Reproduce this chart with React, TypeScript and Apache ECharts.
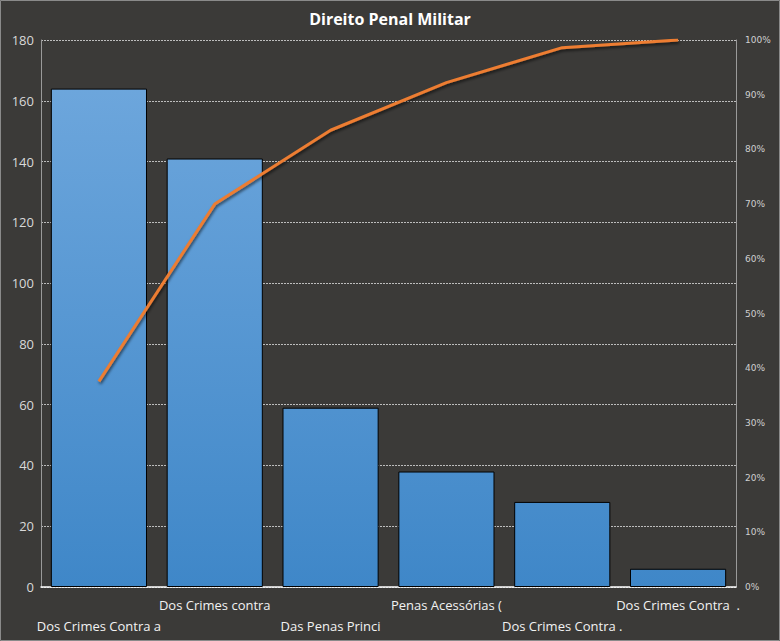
import React, { useEffect, useRef } from "react";
import * as echarts from "echarts";

const categories = [
  "Dos Crimes Contra a",
  "Dos Crimes contra",
  "Das Penas Princi",
  "Penas Acessórias (",
  "Dos Crimes Contra .",
  "Dos Crimes Contra  .",
];
const counts = [164, 141, 59, 38, 28, 6];
const cumulative = [0.376, 0.7, 0.835, 0.922, 0.986, 1.0];
const leftTicks = [0, 20, 40, 60, 80, 100, 120, 140, 160, 180];
const rightTicks = [0, 0.1, 0.2, 0.3, 0.4, 0.5, 0.6, 0.7, 0.8, 0.9, 1.0];

export default function App() {
  const ref = useRef<HTMLDivElement>(null);
  useEffect(() => {
    document.body.style.margin = "0";
    const chart = echarts.init(ref.current!, null, { renderer: "svg" });
    chart.setOption({
      animation: false,
      backgroundColor: "#3b3a38",
      title: {
        text: "Direito Penal Militar",
        left: "center",
        top: 6,
        textStyle: {
          color: "#ffffff",
          fontSize: 16,
          fontWeight: "bold",
          fontFamily: "Open Sans",
        },
      },
      graphic: [
        {
          type: "rect",
          shape: { x: 0.5, y: 0.5, width: 779, height: 640 },
          style: { fill: "none", stroke: "#8a8a8a", lineWidth: 1 },
          silent: true,
        },
      ],
      grid: { left: 41, right: 44, top: 40, bottom: 54 },
      xAxis: {
        type: "category",
        data: categories,
        axisLine: { lineStyle: { color: "#ffffff", width: 1.5 } },
        axisTick: { show: false },
        axisLabel: {
          interval: 0,
          color: "#f2f2f2",
          fontSize: 13,
          fontFamily: "Open Sans",
          lineHeight: 21,
          margin: 7,
          formatter: (v: string, i: number) => (i % 2 === 0 ? "\n" + v : v),
        },
      },
      yAxis: [
        {
          type: "value",
          min: 0,
          max: 180,
          interval: 20,
          axisLine: { show: true, lineStyle: { color: "#9a9a9a" } },
          axisTick: { show: false },
          axisLabel: {
            color: "#d9d9d9",
            fontSize: 13,
            fontFamily: "Open Sans",
            margin: 7,
            formatter: (v: number) => (leftTicks.includes(v) ? String(v) : ""),
          },
          splitLine: {
            show: true,
            lineStyle: { color: "#bdbdbd", type: [2, 1], width: 1 },
          },
        },
        {
          type: "value",
          min: 0,
          max: 1,
          interval: 0.1,
          position: "right",
          axisLine: { show: true, lineStyle: { color: "#9a9a9a" } },
          axisTick: { show: false },
          splitLine: { show: false },
          axisLabel: {
            color: "#d0d0d0",
            fontSize: 9,
            fontFamily: "DejaVu Sans",
            margin: 9,
            formatter: (v: number) => {
              const r = rightTicks.find((t) => Math.abs(t - v) < 1e-6);
              return r === undefined ? "" : Math.round(r * 100) + "%";
            },
          },
        },
      ],
      series: [
        {
          type: "bar",
          data: counts,
          barCategoryGap: "17%",
          itemStyle: {
            borderColor: "#000000",
            borderWidth: 1,
            color: new echarts.graphic.LinearGradient(
              0,
              40,
              0,
              587,
              [
                { offset: 0, color: "#71a9de" },
                { offset: 1, color: "#3f87c8" },
              ],
              true
            ),
          },
        },
        {
          type: "line",
          yAxisIndex: 1,
          data: cumulative,
          symbol: "none",
          lineStyle: {
            color: "#ed7d31",
            width: 3,
            shadowColor: "rgba(0,0,0,0.6)",
            shadowBlur: 3,
            shadowOffsetX: 1,
            shadowOffsetY: 2,
          },
        },
      ],
    });
    return () => chart.dispose();
  }, []);
  return <div ref={ref} style={{ width: 780, height: 641 }} />;
}
